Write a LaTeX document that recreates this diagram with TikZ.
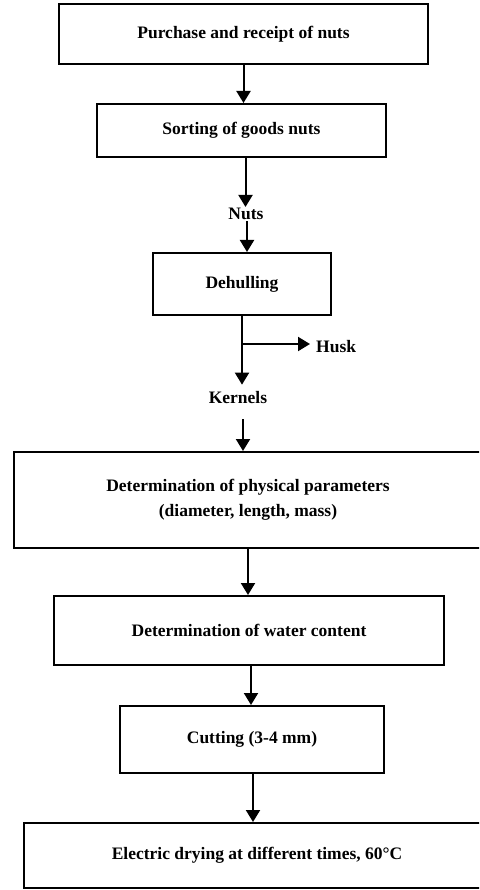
\documentclass[tikz,border=0pt]{standalone}
\usepackage{fontspec}
\setmainfont{Liberation Serif}
\usetikzlibrary{arrows.meta,calc}
\begin{document}
\begin{tikzpicture}[x=1pt,y=1pt,
  stepbox/.style={draw, line width=2pt, inner sep=0pt, align=center,
    font=\fontsize{17.5}{25}\selectfont\bfseries},
  lbl/.style={inner sep=1pt, font=\fontsize{17.5}{21}\selectfont\bfseries},
  flow/.style={line width=2pt, -{Triangle[length=12pt,width=14pt]}}]
\useasboundingbox (0,0) rectangle (479,-890);
\clip (0,0) rectangle (479,-890);
\fill[white] (0,0) rectangle (479,-890);
\node[stepbox, minimum width=369pt, minimum height=60pt] (b1) at (243.5,-34) {Purchase and receipt of nuts};
\node[stepbox, minimum width=289pt, minimum height=53pt] (b2) at (241.5,-130.5) {Sorting of goods nuts};
\node[lbl] (nuts) at (246,-214) {Nuts};
\node[stepbox, minimum width=178pt, minimum height=62pt] (b3) at (242,-284) {Dehulling};
\node[lbl, anchor=west] (husk) at (315,-347) {Husk};
\node[lbl] (kern) at (238,-398) {Kernels};
\node[stepbox, minimum width=468pt, minimum height=96pt] (b4) at (248,-500) {Determination of physical parameters\\(diameter, length, mass)};
\node[stepbox, minimum width=390pt, minimum height=69pt] (b5) at (249,-630.5) {Determination of water content};
\node[stepbox, minimum width=264pt, minimum height=67pt] (b6) at (252,-739.5) {Cutting (3-4 mm)};
\node[stepbox, minimum width=466pt, minimum height=65pt] (b7) at (257,-855.5) {Electric drying at different times, 60°C};
\coordinate (br) at (242,-344);
\draw[flow] (b1.south) -- (b1.south |- b2.north);
\draw[flow] ([xshift=4pt]b2.south) -- ([xshift=4pt]b2.south |- nuts.north);
\draw[flow] ([xshift=1pt]nuts.south) -- ([xshift=1pt]nuts.south |- b3.north);
\draw[line width=2pt] (b3.south) -- (br);
\draw[flow] (br) -- ($(br |- kern.north)+(0,6)$);
\draw[flow] (br) -- ([xshift=-5pt]husk.west |- br);
\draw[flow] ($(kern.south)+(5,-14)$) -- ([xshift=5pt]kern.south |- b4.north);
\draw[flow] (b4.south) -- (b4.south |- b5.north);
\draw[flow] ([xshift=2pt]b5.south) -- ([xshift=2pt]b5.south |- b6.north);
\draw[flow] ([xshift=1pt]b6.south) -- ([xshift=1pt]b6.south |- b7.north);
\end{tikzpicture}
\end{document}
